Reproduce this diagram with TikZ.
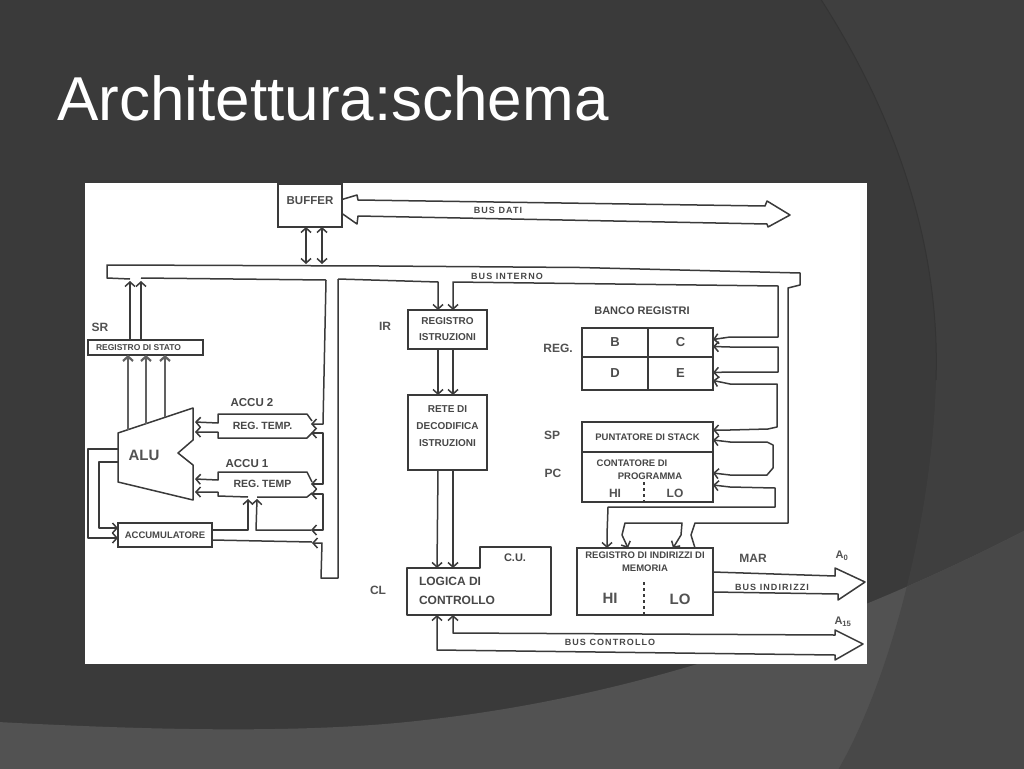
\documentclass[tikz,border=0pt]{standalone}
\usepackage{fontspec}
\setmainfont{Liberation Sans}
\setsansfont{Liberation Sans}
\newfontfamily\scanfont[LetterSpace=12]{Liberation Sans}
\usetikzlibrary{positioning,arrows.meta}
\definecolor{slate}{HTML}{3A3A3A}
\definecolor{slateright}{HTML}{3F3F3F}
\definecolor{slateedge}{HTML}{343434}
\definecolor{band}{HTML}{525252}
\definecolor{bandright}{HTML}{484848}
\definecolor{ink}{HTML}{3A3A3A}
\begin{document}
\begin{tikzpicture}[
  x=1pt, y=-1pt,
  >={Straight Barb[length=4.5pt,width=10pt]},
  line/.style={line width=1.5pt, color=ink, line join=round},
  flow/.style={line, ->},
  both/.style={line, <->},
  thick flow/.style={->, line width=2.2pt, color=black!62},
  regbox/.style={draw=ink, line width=1.5pt, outer sep=0pt, inner sep=0pt, align=center},
  plain/.style={outer sep=0pt, inner sep=0pt, align=center},
  tiny label/.style={text=black!72, font=\bfseries\fontsize{9.5}{12}\selectfont, align=center, inner sep=0pt},
  bus label/.style={text=black!72, font=\bfseries\scanfont\fontsize{9}{11}\selectfont, inner sep=0pt},
  name label/.style={text=black!68, font=\bfseries\fontsize{12}{14}\selectfont, inner sep=0pt}
]
  \useasboundingbox (0,0) rectangle (1024,768);
  % slide background
  \fill[slate] (-2,-2) rectangle (1026,770);
  \fill[slateright] (820,-2) .. controls (905,130) and (940,260) .. (936,380)
    .. controls (932,520) and (890,680) .. (838,770) -- (1026,770) -- (1026,-2) -- cycle;
  \draw[slateedge, line width=1pt] (820,-2) .. controls (905,130) and (940,260) .. (936,380);
  \fill[band] (-2,722) .. controls (130,729) and (300,735) .. (425,720)
    .. controls (650,695) and (850,620) .. (1026,530) -- (1026,770) -- (-2,770) -- cycle;
  \begin{scope}
    \clip (820,-2) .. controls (905,130) and (940,260) .. (936,380)
      .. controls (932,520) and (890,680) .. (838,770) -- (1026,770) -- (1026,-2) -- cycle;
    \fill[bandright] (-2,722) .. controls (130,729) and (300,735) .. (425,720)
      .. controls (650,695) and (850,620) .. (1026,530) -- (1026,770) -- (-2,770) -- cycle;
  \end{scope}
  \node[anchor=base west, text=white, inner sep=0pt, font=\fontsize{62}{64}\selectfont] (title) at (57,120) {Architettura:schema};
  \node[fill=white, outer sep=0pt, inner sep=0pt, minimum width=782pt, minimum height=481pt, anchor=north west] (scan) at (85,183) {};

  % boxes
  \node[regbox, minimum width=64pt, minimum height=43pt, anchor=north west, font=\bfseries\fontsize{11.5}{12}\selectfont, text=black!70] (buffer) at (278,184) {BUFFER\\[-2pt]};
  \node[regbox, minimum width=115pt, minimum height=15pt, anchor=north west, font=\bfseries\fontsize{8.5}{9}\selectfont, text=black!72] (sr) at (88,340) {REGISTRO DI STATO\hspace*{14pt}};
  \node[regbox, minimum width=79pt, minimum height=39pt, tiny label, anchor=north west, font=\bfseries\fontsize{10}{16}\selectfont] (ir) at (408,310) {REGISTRO\\ISTRUZIONI};
  \node[regbox, minimum width=79pt, minimum height=75pt, tiny label, below=46pt of ir, font=\bfseries\fontsize{10}{17}\selectfont] (rete) {RETE DI\\DECODIFICA\\ISTRUZIONI\\[-4pt]};
  \node[regbox, minimum width=94pt, minimum height=24pt, tiny label, anchor=north west] (acc) at (118,523) {ACCUMULATORE};
  \node[plain, minimum width=89pt, minimum height=24pt, tiny label, anchor=north west, font=\bfseries\fontsize{10.5}{12}\selectfont] (rtb) at (218,414) {REG. TEMP.};
  \node[plain, minimum width=89pt, minimum height=24pt, tiny label, anchor=north west, font=\bfseries\fontsize{10.5}{12}\selectfont] (rta) at (218,472) {REG. TEMP};

  % banco registri
  \node[regbox, minimum width=66pt, minimum height=29pt, anchor=north west, font=\bfseries\fontsize{13}{14}\selectfont, text=black!70] (regb) at (582,328) {B};
  \node[regbox, minimum width=65pt, minimum height=29pt, right=0pt of regb, font=\bfseries\fontsize{13}{14}\selectfont, text=black!70] (regc) {C};
  \node[regbox, minimum width=66pt, minimum height=33pt, below=0pt of regb, font=\bfseries\fontsize{13}{14}\selectfont, text=black!70] (regd) {D};
  \node[regbox, minimum width=65pt, minimum height=33pt, below=0pt of regc, font=\bfseries\fontsize{13}{14}\selectfont, text=black!70] (rege) {E};

  % puntatore e contatore
  \node[regbox, minimum width=131pt, minimum height=30pt, tiny label, anchor=north west] (sp) at (582,422) {PUNTATORE DI STACK};
  \node[regbox, minimum width=131pt, minimum height=50pt, below=0pt of sp] (pc) {};
  \node[tiny label, anchor=center, font=\bfseries\fontsize{9.5}{13}\selectfont] (pctext) at (632,470) {CONTATORE DI\\\hspace*{36pt}PROGRAMMA};
  \node[name label] (pchi) at (615,493) {HI};
  \node[name label] (pclo) at (675,493) {LO};
  \draw[line, dashed, line width=1.1pt] (644,482) -- (pc.south -| 644,0);

  % logica di controllo
  \node[plain, minimum width=144pt, minimum height=47pt, anchor=north west] (cl) at (407,568) {};
  \node[plain, minimum width=71pt, minimum height=21pt, anchor=south east] (cu) at (cl.north east) {};
  \draw[line] (cl.north west) -- (cu.south west) -- (cu.north west) -- (cu.north east) -- (cl.south east) -- (cl.south west) -- cycle;
  \node[tiny label, font=\bfseries\fontsize{12}{19}\selectfont, align=left] (cltext) at (457,591) {LOGICA DI\\CONTROLLO};
  \node[tiny label, font=\bfseries\fontsize{11}{12}\selectfont] (cutext) at (515,558) {C.U.};

  % registro indirizzi
  \node[regbox, minimum width=136pt, minimum height=67pt, anchor=north west] (mar) at (577,548) {};
  \node[tiny label, font=\bfseries\fontsize{9.5}{13}\selectfont] (martext) at (645,562) {REGISTRO DI INDIRIZZI DI\\MEMORIA};
  \node[name label, font=\bfseries\fontsize{15}{16}\selectfont] (marhi) at (610,598) {HI};
  \node[name label, font=\bfseries\fontsize{15}{16}\selectfont] (marlo) at (680,599) {LO};
  \draw[line, dashed, line width=1.1pt] (644,582) -- (mar.south -| 644,0);

  % ALU
  \draw[line] (118,433) -- (193,408) -- (193,440) -- (178,453) -- (193,465) -- (193,500) -- (118,482) -- cycle;
  \node[name label, font=\bfseries\fontsize{15}{16}\selectfont] (alu) at (144,455) {ALU};
  \coordinate (alua) at (128,430);
  \coordinate (alub) at (146,424);
  \coordinate (aluc) at (165,417);

  % labels
  \node[name label] (srname) at (100,327) {SR};
  \node[name label] (irname) at (385,326) {IR};
  \node[name label] (clname) at (378,590) {CL};
  \node[name label] (regname) at (558,348) {REG.};
  \node[name label] (spname) at (552,435) {SP};
  \node[name label] (pcname) at (553,473) {PC};
  \node[name label] (marname) at (753,558) {MAR};
  \node[tiny label, font=\bfseries\fontsize{11.5}{12}\selectfont] (accub) at (252,403) {ACCU 2};
  \node[tiny label, font=\bfseries\fontsize{11.5}{12}\selectfont] (accua) at (247,464) {ACCU 1};
  \node[tiny label, font=\bfseries\fontsize{11}{12}\selectfont] (banco) at (642,311) {BANCO REGISTRI};
  \node[bus label] (busdati) at (498,210) {BUS DATI};
  \node[bus label] (businterno) at (507,276) {BUS INTERNO};
  \node[bus label] (busind) at (772,587) {BUS INDIRIZZI};
  \node[bus label] (buscontrollo) at (610,642) {BUS CONTROLLO};
  \node[name label, font=\bfseries\fontsize{11}{12}\selectfont] (azero) at (842,556) {A\textsubscript{0}};
  \node[name label, font=\bfseries\fontsize{11}{12}\selectfont] (aend) at (843,622) {A\textsubscript{15}};

  % bus
  \draw[line] ([yshift=6pt]buffer.east) -- (357,195) -- (358,200) -- (765,206) -- (767,201) -- (790,215)
    -- (768,227) -- (767,224) -- (358,216) -- (357,224) -- ([yshift=-8pt]buffer.east);
  \draw[both] ([xshift=-4pt]buffer.south) -- (306,264);
  \draw[both] ([xshift=12pt]buffer.south) -- (322,264);
  \draw[line] (130,279) -- (107,278) -- (107,265) -- (380,266) -- (580,267.5) -- (800,273) -- (800,285) -- (788,288)
    -- (788,523) -- (695,523) -- (691,535) -- ([xshift=50pt]mar.north);
  \draw[line] (141,278) -- (326,280);
  \draw[flow] ([xshift=-15.5pt]sr.north) -- (130,281);
  \draw[flow] ([xshift=-4.5pt]sr.north) -- (141,281);
  \draw[thick flow] (alua) -- ([xshift=-17.5pt]sr.south);
  \draw[thick flow] (alub) -- ([xshift=0.5pt]sr.south);
  \draw[thick flow] (aluc) -- ([xshift=19.5pt]sr.south);

  % registri temporanei
  \draw[flow] (326,280) -- (323,424) -- (311,424);
  \draw[flow] (312,421) -- (rtb.north east) -- (rtb.north west) -- (218,423) -- (195,422);
  \draw[both] (311,433) -- (323,433) -- (323,484) -- (311,484);
  \draw[flow] (312,433) -- (rtb.south east) -- (rtb.south west) -- (218,432) -- (195,432);
  \draw[flow] (312,482) -- (rta.north east) -- (rta.north west) -- (218,480) -- (195,479);
  \draw[flow] (248,497) -- (218,496) -- (218,492) -- (195,492);
  \draw[flow] ([yshift=5pt]acc.east) -- (248,530) -- (248,499);
  \draw[line] (312,493) -- (307,497) -- (257,497);
  \draw[both] (311,494) -- (323,494) -- (323,530) -- (311,530);
  \draw[flow] (311,530) -- (256,530) -- (257,499);
  \draw[line] ([yshift=-5pt]acc.east) -- (312,542);
  \draw[flow] (338,279) -- (338,578) -- (321,578) -- (322,543) -- (312,543);
  \draw[flow] (118,449) -- (88,449) -- (88,538) -- ([yshift=-3pt]acc.west);
  \draw[flow] (118,462) -- (99,462) -- (99,528) -- ([yshift=7pt]acc.west);

  % registro istruzioni e decodifica
  \draw[flow] (338,279) -- (438,282) -- ([xshift=-9.5pt]ir.north);
  \draw[both] ([xshift=5.5pt]ir.north) -- (453,282) -- (778,286) -- (778,337) -- (730,337) -- ([yshift=3pt]regc.east);
  \draw[flow] ([xshift=-9.5pt]ir.south) -- ([xshift=-9.5pt]rete.north);
  \draw[flow] ([xshift=5.5pt]ir.south) -- ([xshift=5.5pt]rete.north);
  \draw[flow] ([xshift=-9.5pt]rete.south) -- ([xshift=30pt]cl.north west);
  \draw[flow] ([xshift=5.5pt]rete.south) -- ([xshift=46pt]cl.north west);

  % collegamenti a destra
  \draw[both] ([yshift=-4pt]regc.east) -- (730,347) -- (778,347) -- (778,372) -- (730,372) -- ([yshift=1pt]rege.east);
  \draw[both] ([yshift=-7pt]rege.east) -- (730,384) -- (777,384) -- (777,427) -- (768,429) -- (730,430) -- ([yshift=7pt]sp.east);
  \draw[both] ([yshift=-3pt]sp.east) -- (730,442) -- (767,442) -- (773,445) -- (773,468) -- (767,475) -- (730,475) -- ([yshift=4pt]pc.east);
  \draw[both] ([yshift=-8pt]pc.east) -- (730,487) -- (775,488) -- (775,507) -- (608,507) -- (607,535) -- ([xshift=-38pt]mar.north);
  \draw[both] ([xshift=-17pt]mar.north) -- (622,535) -- (625,523) -- (682,523) -- (681,535) -- ([xshift=28pt]mar.north);

  % bus indirizzi e controllo
  \draw[line] ([yshift=9.5pt]mar.east) -- (835,576) -- (835,568) -- (865,582) -- (838,600) -- (838,594) -- ([yshift=-10.5pt]mar.east);
  \draw[both] ([xshift=30pt]cl.south west) -- (437,650) -- (835,655) -- (835,660) -- (863,644) -- (835,630) -- (835,635) -- (453,633) -- ([xshift=46pt]cl.south west);
\end{tikzpicture}
\end{document}
